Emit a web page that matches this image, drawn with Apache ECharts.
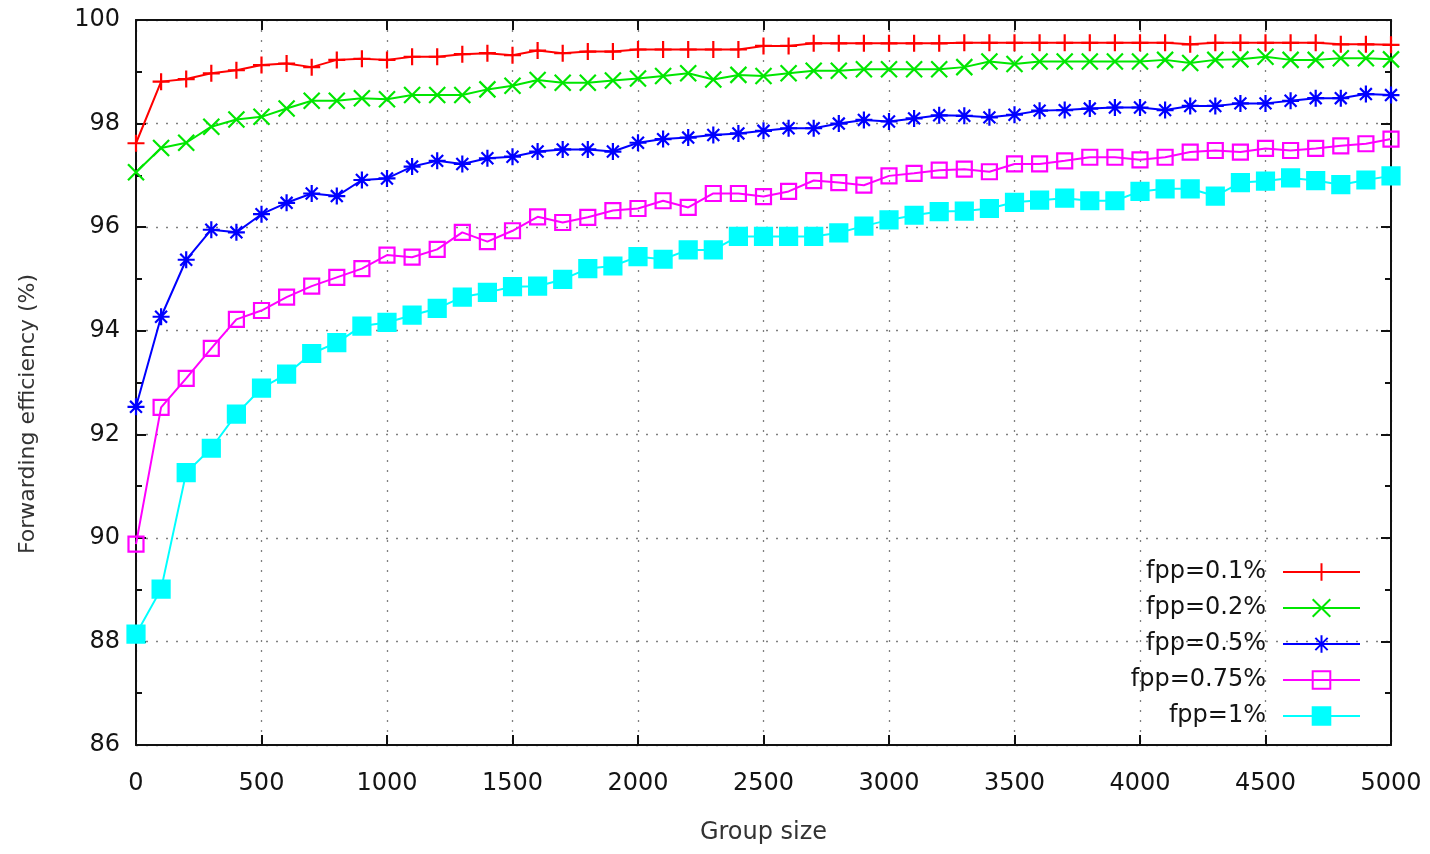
<!DOCTYPE html>
<html>
<head>
<meta charset="utf-8">
<script src="https://cdn.jsdelivr.net/npm/echarts@6/dist/echarts.min.js"></script>
<style>html,body{margin:0;padding:0;background:#fff}#c{width:1430px;height:854px}</style>
</head>
<body>
<div id="c"></div>
<script>
const groupSize = [0,100,200,300,400,500,600,700,800,900,1000,1100,1200,1300,1400,1500,1600,1700,1800,1900,2000,2100,2200,2300,2400,2500,2600,2700,2800,2900,3000,3100,3200,3300,3400,3500,3600,3700,3800,3900,4000,4100,4200,4300,4400,4500,4600,4700,4800,4900,5000];
const seriesNames = ['fpp=0.1%','fpp=0.2%','fpp=0.5%','fpp=0.75%','fpp=1%'];
const fpp01 = [97.62,98.81,98.86,98.97,99.03,99.13,99.16,99.09,99.23,99.25,99.23,99.29,99.29,99.34,99.36,99.32,
  99.41,99.36,99.39,99.39,99.43,99.43,99.43,99.43,99.43,99.50,99.50,99.55,99.55,99.55,99.55,99.55,99.55,
  99.56,99.56,99.56,99.56,99.56,99.56,99.56,99.56,99.56,99.53,99.56,99.56,99.56,99.56,99.56,99.53,99.53,99.52];
const fpp02 = [97.06,97.53,97.63,97.94,98.08,98.13,98.29,98.44,98.44,98.49,98.47,98.55,98.55,98.55,98.66,98.73,
  98.84,98.79,98.79,98.83,98.87,98.92,98.97,98.85,98.94,98.92,98.97,99.02,99.02,99.05,99.05,99.05,99.05,
  99.09,99.20,99.15,99.20,99.20,99.20,99.20,99.20,99.23,99.17,99.23,99.24,99.29,99.23,99.23,99.26,99.26,99.24];
const fpp05 = [92.53,94.27,95.37,95.95,95.90,96.25,96.47,96.65,96.60,96.91,96.94,97.17,97.28,97.22,97.33,97.36,
  97.46,97.50,97.50,97.46,97.63,97.70,97.73,97.78,97.81,97.86,97.91,97.91,98.00,98.07,98.04,98.10,98.16,
  98.15,98.12,98.17,98.25,98.26,98.29,98.31,98.31,98.26,98.34,98.34,98.39,98.39,98.44,98.49,98.49,98.57,98.55];
const fpp075 = [89.88,92.52,93.08,93.66,94.22,94.39,94.65,94.86,95.03,95.20,95.46,95.42,95.57,95.90,95.72,95.93,
  96.20,96.09,96.19,96.32,96.36,96.51,96.38,96.65,96.65,96.59,96.69,96.90,96.86,96.81,96.99,97.04,97.10,
  97.12,97.07,97.22,97.22,97.28,97.35,97.35,97.30,97.35,97.45,97.48,97.45,97.52,97.48,97.52,97.57,97.61,97.70];
const fpp1 = [88.14,89.01,91.26,91.73,92.39,92.89,93.16,93.56,93.77,94.09,94.16,94.30,94.43,94.65,94.74,94.85,
  94.86,94.99,95.20,95.25,95.43,95.38,95.56,95.56,95.82,95.82,95.82,95.82,95.89,96.02,96.14,96.23,96.30,
  96.31,96.36,96.48,96.52,96.56,96.51,96.51,96.69,96.74,96.74,96.60,96.86,96.89,96.95,96.90,96.82,96.91,96.99];
const yTicks = {min: 86, max: 100, interval: 2};
const xTicks = {min: 0, max: 5000, interval: 500};
const xTitle = 'Group size';
const yTitle = 'Forwarding efficiency (%)';

const FONT = 'DejaVu Sans';
const TXT = '#141414';
const plusPath = 'path://M5,0 L5,10 M0,5 L10,5';
const crossPath = 'path://M0,0 L10,10 M10,0 L0,10';
const starPath = 'path://M5,0 L5,10 M0,5 L10,5 M1.5,1.5 L8.5,8.5 M8.5,1.5 L1.5,8.5';
const squarePath = 'path://M0,0 L10,0 L10,10 L0,10 Z';

function mk(name, vals, color, symbol, size, filled) {
  return {
    name: name, type: 'line', data: groupSize.map((g, i) => [g, vals[i]]),
    symbol: symbol, symbolSize: size, showAllSymbol: true,
    lineStyle: {color: color, width: 2},
    itemStyle: {color: filled ? color : 'rgba(255,255,255,0)', borderColor: color, borderWidth: 2.2},
    emphasis: {disabled: true}, animation: false, z: 3
  };
}
const gridLine = {show: true, lineStyle: {color: '#808080', width: 1.3, type: [2, 8]}};
const frame = {show: true, onZero: false, lineStyle: {color: '#111', width: 2}};
const majorTick = {show: true, inside: true, length: 10, lineStyle: {color: '#111', width: 2}};
const chart = echarts.init(document.getElementById('c'));
chart.setOption({
  backgroundColor: '#fff',
  animation: false,
  grid: {left: 136, right: 39, top: 20, bottom: 109, containLabel: false},
  legend: {
    orient: 'vertical', right: 64, top: 555, align: 'right',
    itemWidth: 77, itemHeight: 22, itemGap: 12,
    textStyle: {fontFamily: FONT, fontSize: 24, color: TXT, padding: [0, 12, 0, 0]},
    data: seriesNames
  },
  graphic: [{
    type: 'text', x: 28, y: 414, rotation: Math.PI / 2,
    style: {text: yTitle, fontFamily: FONT, fontSize: 22, fill: '#333', align: 'center', verticalAlign: 'middle'}
  }],
  xAxis: [{
    type: 'value', min: xTicks.min, max: xTicks.max, interval: xTicks.interval, position: 'bottom',
    name: xTitle, nameLocation: 'middle', nameGap: 76,
    nameTextStyle: {fontFamily: FONT, fontSize: 24, color: '#333'},
    axisLine: frame, axisTick: majorTick,
    axisLabel: {fontFamily: FONT, fontSize: 24, color: TXT, margin: 27, formatter: v => String(v)},
    splitLine: gridLine
  }, {
    type: 'value', min: xTicks.min, max: xTicks.max, interval: xTicks.interval, position: 'top',
    axisLine: frame, axisTick: majorTick,
    axisLabel: {show: false}, splitLine: {show: false}
  }],
  yAxis: [{
    type: 'value', min: yTicks.min, max: yTicks.max, interval: yTicks.interval, position: 'left',
    axisLine: frame, axisTick: majorTick,
    minorTick: {show: true, splitNumber: 2, length: 6, lineStyle: {color: '#111', width: 2}},
    axisLabel: {fontFamily: FONT, fontSize: 24, color: TXT, margin: 16, formatter: v => String(v)},
    splitLine: gridLine
  }, {
    type: 'value', min: yTicks.min, max: yTicks.max, interval: yTicks.interval, position: 'right',
    axisLine: frame, axisTick: majorTick,
    minorTick: {show: true, splitNumber: 2, length: 6, lineStyle: {color: '#111', width: 2}},
    axisLabel: {show: false}, splitLine: {show: false}
  }],
  series: [
    mk(seriesNames[0], fpp01, '#ff0000', plusPath, 17, false),
    mk(seriesNames[1], fpp02, '#00e600', crossPath, 16, false),
    mk(seriesNames[2], fpp05, '#0000ff', starPath, 17, false),
    mk(seriesNames[3], fpp075, '#ff00ff', squarePath, 15, false),
    mk(seriesNames[4], fpp1, '#00ffff', 'rect', 17, true)
  ]
});
</script>
</body>
</html>
